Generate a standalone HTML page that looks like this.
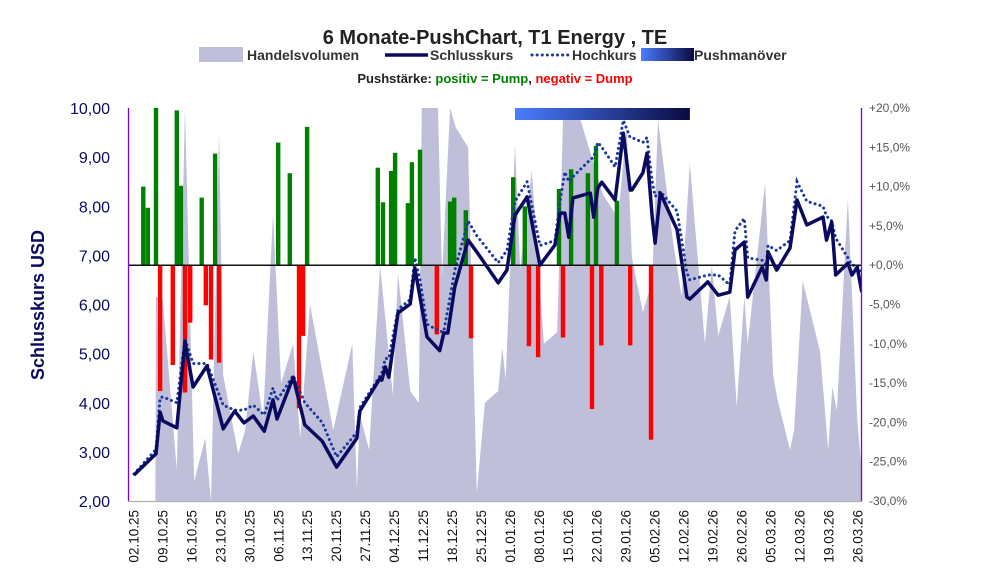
<!DOCTYPE html>
<html><head><meta charset="utf-8">
<style>
body{margin:0;background:#fff;}
svg{display:block;font-family:"Liberation Sans",sans-serif;}
</style></head>
<body>
<svg id="chart" width="991" height="587" viewBox="0 0 991 587" xmlns="http://www.w3.org/2000/svg">
<defs>
<linearGradient id="pg" x1="0" x2="1" y1="0" y2="0"><stop offset="0" stop-color="#4a7dff"/><stop offset="1" stop-color="#0a0a40"/></linearGradient>
<clipPath id="plotclip"><rect x="128" y="108" width="734" height="393"/></clipPath>
</defs>
<text x="495" y="44" text-anchor="middle" font-size="20" font-weight="bold" fill="#222">6 Monate-PushChart, T1 Energy , TE</text>
<g font-size="14" font-weight="bold" fill="#333">
<g><rect x="199" y="47" width="44" height="15" fill="#bfbfd9"/><text x="247" y="60">Handelsvolumen</text></g>
<g><line x1="385" y1="55" x2="428" y2="55" stroke="#0a0a60" stroke-width="3.5"/><text x="430" y="60">Schlusskurs</text></g>
<g><line x1="532" y1="55" x2="570" y2="55" stroke="#1a3a9c" stroke-width="3" stroke-dasharray="0.1 5" stroke-linecap="round"/><text x="572" y="60">Hochkurs</text></g>
<g><rect x="641" y="48" width="53" height="13" fill="url(#pg)"/><text x="694" y="60">Pushmanöver</text></g>
</g>
<text x="495" y="83" text-anchor="middle" font-size="13" font-weight="bold" fill="#222">Pushstärke:  <tspan fill="#008000">positiv = Pump</tspan>,  <tspan fill="#ff0000">negativ = Dump</tspan></text>
<text transform="translate(44,305) rotate(-90)" text-anchor="middle" font-size="18" font-weight="bold" fill="#0a0a60">Schlusskurs USD</text>
<g id="vol" clip-path="url(#plotclip)"></g>
<g id="push" clip-path="url(#plotclip)"></g>
<g id="lines" clip-path="url(#plotclip)"></g>
<g id="axes"></g>
</svg>
<script>
const volDay=[3.7,3.8,5.0,7.4,8.8,10.4,12.3,13.3,14.7,15.4,18.0,19.2,20.6,22.3,24.0,25.4,27.5,28.7,30.4,34.4,37.7,38.5,39.0,40.6,42.5,44.7,45.6,47.7,49.2,49.7,52.5,53.2,54.6,55.6,57.7,59.2,60.6,62.9,63.6,64.2,65.8,66.7,68.7,70.8,73.1,74.1,76.5,81.0,83.6,85.1,86.0,87.9,89.5,90.5,93.1,94.6,96.0,98.6,99.8,100.9,102.9,104.1,105.4,106.0,109.0,110.4,111.1,113.3,114.0,115.5,118.5,119.0,119.9,120.6,121.4,123.3,124.9,125.6];
const volVal=[0,52,51,8,100,5,16,0,94,32,12,18,38,21,73,30,40,16,50,18,40,3,22,13,60,27,58,28,25,100,100,57,100,95,90,2,25,28,39,31,91,59,84,40,43,97,100,78,72,95,62,48,56,97,66,52,86,40,60,42,52,24,52,40,81,32,26,13,18,56,38,29,13,29,23,77,21,9,11];
const priceDay=[0,3.8,4.5,5,7.4,8.8,10.2,12.6,15.4,17.4,19,20.6,22.5,24,24.7,27.5,29.5,32.5,35,38.5,39,42.5,42.8,43.4,44,45.6,47.7,48.5,49.4,50.6,52.8,53.5,54.2,55.4,57.7,59.2,62.9,64.4,65.8,67.9,70.1,72.7,73.6,74.4,75.1,75.8,78.8,79.4,80.1,80.8,83.1,84.5,85.7,86,87.9,88.6,89.5,90,90.9,93.8,95.5,96,99.1,100.9,102.9,103.8,105.4,106,108.5,109.2,109.5,111,113.3,114.5,116.2,119,119.6,120.5,121.2,123.3,124,124.9,125.7];
const closeVal=[2.53,2.96,3.81,3.63,3.49,5.24,4.32,4.75,3.47,3.83,3.59,3.73,3.42,4.06,3.67,4.52,3.55,3.22,2.69,3.28,3.83,4.50,4.46,4.73,4.52,5.83,6.01,6.74,6.15,5.34,5.06,5.42,5.42,6.36,7.31,7.07,6.44,6.70,7.82,8.19,6.80,7.21,7.86,7.86,7.37,8.17,8.27,7.78,8.37,8.49,8.13,9.49,8.33,8.33,8.68,9.08,7.78,7.25,8.27,7.52,6.15,6.11,6.46,6.19,6.25,7.11,7.27,6.15,6.76,6.50,7.07,6.70,7.15,8.13,7.62,7.78,7.31,7.68,6.60,6.84,6.60,6.76,6.25];
const highVal=[2.55,3.05,4.1,4.12,4.0,5.3,4.8,4.8,3.95,3.85,3.85,3.95,3.75,4.3,4.05,4.55,4.0,3.6,2.9,3.4,3.9,4.55,4.6,4.9,4.9,5.9,6.1,6.95,6.5,5.6,5.45,5.45,5.9,6.7,7.7,7.4,6.85,7.1,8.1,8.5,7.2,7.3,8.1,8.7,8.5,8.6,8.95,9.0,9.3,9.2,8.8,9.75,9.4,9.4,9.3,9.4,8.5,8.2,8.3,7.9,6.65,6.5,6.6,6.6,6.4,7.5,7.75,6.95,6.9,6.8,7.2,7.1,7.3,8.5,8.1,8.0,7.8,7.7,7.35,6.95,6.8,6.8,6.6];
const pushDay=[1.6,2.4,3.8,7.4,8.1,11.7,14.0,24.9,26.9,29.9,42.1,43.0,44.4,45.1,47.3,48.0,49.4,54.6,55.3,57.3,65.5,67.5,73.4,75.5,78.4,79.8,83.4,4.5,6.7,8.8,9.7,12.4,13.3,14.7,28.5,29.2,52.3,58.2,68.2,69.8,74.1,79.1,80.7,85.7,89.3];
const pushVal=[10.0,7.3,21,19.7,10.1,8.6,14.2,15.6,11.7,17.6,12.4,8.0,12.0,14.3,7.9,13.1,14.7,8.1,8.6,7.0,11.2,7.5,9.7,12.2,11.7,15.2,8.2,-16.0,-12.7,-16.2,-7.3,-5.1,-12.0,-12.4,-18.2,-9.0,-8.8,-9.3,-10.3,-11.7,-9.2,-18.3,-10.2,-10.2,-22.2];
const leftTicks=["2,00","3,00","4,00","5,00","6,00","7,00","8,00","9,00","10,00"];
const rightTicks=["-30,0%","-25,0%","-20,0%","-15,0%","-10,0%","-5,0%","+0,0%","+5,0%","+10,0%","+15,0%","+20,0%"];
const dateLabels=["02.10.25","09.10.25","16.10.25","23.10.25","30.10.25","06.11.25","13.11.25","20.11.25","27.11.25","04.12.25","11.12.25","18.12.25","25.12.25","01.01.26","08.01.26","15.01.26","22.01.26","29.01.26","05.02.26","12.02.26","19.02.26","26.02.26","05.03.26","12.03.26","19.03.26","26.03.26"];
const pushWindow=[65.8,96.0];
const baseLine=6.8;

const NS="http://www.w3.org/2000/svg";
const X0=134,DX=5.79,YT=108,YB=501;
const xS=d=>X0+d*DX;
const yP=p=>YB-(p-2)/8*(YB-YT);
const yPct=v=>YB-(v+30)/50*(YB-YT);
const yV=v=>YB-v/100*(YB-YT);
function mk(tag,attrs,parent){const e=document.createElementNS(NS,tag);for(const k in attrs)e.setAttribute(k,attrs[k]);parent.appendChild(e);return e;}

const vg=document.getElementById('vol');
let vp=volDay.map((d,i)=>xS(d).toFixed(1)+','+yV(volVal[i]).toFixed(1));
vp.push(xS(volDay[volDay.length-1]).toFixed(1)+','+YB);
vp.push(xS(volDay[0]).toFixed(1)+','+YB);
const va=mk('polygon',{points:vp.join(' '),fill:'#bfbfd9'},vg);



const pg=document.getElementById('push');
pushDay.forEach((d,i)=>{
  const v=pushVal[i],y0=yPct(0),y1=yPct(v);
  const r=mk('rect',{x:(xS(d)-2.2).toFixed(1),y:Math.min(y0,y1).toFixed(1),width:4.4,height:Math.abs(y1-y0).toFixed(1),fill:v>=0?'#008000':'#ff0000'},pg);
  
  
});
const pw=mk('rect',{x:xS(pushWindow[0]).toFixed(1),y:108,width:(xS(pushWindow[1])-xS(pushWindow[0])).toFixed(1),height:12,fill:'url(#pg)'},pg);



const lg=document.getElementById('lines');
const hl=mk('polyline',{points:priceDay.map((d,i)=>xS(d).toFixed(1)+','+yP(highVal[i]).toFixed(1)).join(' '),fill:'none',stroke:'#1a3a9c','stroke-width':3,'stroke-dasharray':'0.1 5','stroke-linecap':'round'},lg);


const bl=mk('line',{x1:128,x2:862,y1:yP(baseLine),y2:yP(baseLine),stroke:'#111','stroke-width':1.5},lg);


const cl=mk('polyline',{points:priceDay.map((d,i)=>xS(d).toFixed(1)+','+yP(closeVal[i]).toFixed(1)).join(' '),fill:'none',stroke:'#0a0a60','stroke-width':3.5,'stroke-linejoin':'round'},lg);



const ag=document.getElementById('axes');
let e=mk('line',{x1:128.5,x2:128.5,y1:108,y2:501,stroke:'#7a00e0','stroke-width':1.3},ag);

e=mk('line',{x1:861.5,x2:861.5,y1:108,y2:501,stroke:'#7a00e0','stroke-width':1.3},ag);

e=mk('line',{x1:128,x2:862,y1:501.5,y2:501.5,stroke:'#b0b0b0','stroke-width':1.3},ag);

leftTicks.forEach((t,i)=>{
  const tx=mk('text',{x:110,y:(yP(2+i)+6).toFixed(1),'text-anchor':'end','font-size':16,fill:'#0a0a60'},ag);
  tx.textContent=t;
  
  
});
rightTicks.forEach((t,i)=>{
  const tx=mk('text',{x:869,y:(yPct(-30+i*5)+4).toFixed(1),'font-size':12,fill:'#555'},ag);
  tx.textContent=t;
  
  
});
dateLabels.forEach((t,i)=>{
  const x=xS(i*5)+4.5;
  const tx=mk('text',{transform:'translate('+x.toFixed(1)+',510) rotate(-90)','text-anchor':'end','font-size':13.5,fill:'#111'},ag);
  tx.textContent=t;
  
  
});
</script>
</body></html>
